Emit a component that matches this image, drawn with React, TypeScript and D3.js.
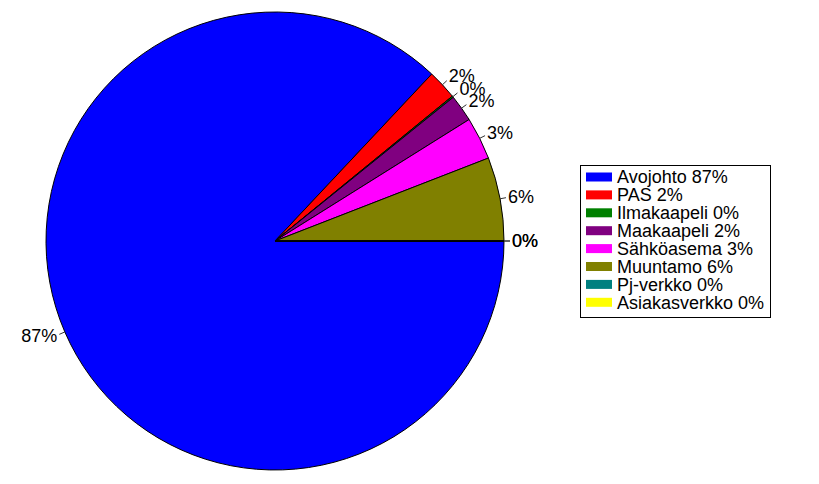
import React from "react";
import * as d3 from "d3";

const categories = ["Avojohto", "PAS", "Ilmakaapeli", "Maakaapeli", "Sähköasema", "Muuntamo", "Pj-verkko", "Asiakasverkko"];
const values = [870, 21, 1, 19, 30, 59, 0, 0];
const colors = ["#0000FF", "#FF0000", "#008000", "#800080", "#FF00FF", "#808000", "#008080", "#FFFF00"];

export default function App() {
  const W = 819, H = 484;
  const cx = 275, cy = 241, r = 229;
  const total = d3.sum(values);
  const pct = (v: number) => `${Math.round((v / total) * 100)}%`;
  // d3 angles: 0 = 12 o'clock, clockwise. Start at 3 o'clock going clockwise.
  const pie = d3.pie<number>().sort(null).startAngle(Math.PI / 2).endAngle(Math.PI / 2 + 2 * Math.PI);
  const arcs = pie(values);
  const arc = d3.arc<d3.PieArcDatum<number>>().innerRadius(0).outerRadius(r);
  const fs = 18;
  return (
    <svg width={W} height={H} style={{ position: "absolute", left: 0, top: 0 }} fontFamily="Liberation Sans, Arial, sans-serif">
      <rect width={W} height={H} fill="#fff" />
      <g transform={`translate(${cx},${cy})`}>
        {arcs.map((a, i) => (
          <path key={i} d={arc(a) || ""} fill={colors[i]} stroke="#000" strokeWidth={1} />
        ))}
        {arcs.map((a, i) => {
          const m = (a.startAngle + a.endAngle) / 2;
          const sx = Math.sin(m), sy = -Math.cos(m);
          const right = sx >= 0;
          const x1 = sx * r, y1 = sy * r, x2 = sx * (r + 6), y2 = sy * (r + 6);
          const lx = x2 + (right ? 2 : -2);
          const ly = y2 + (sy < 0 ? sy * 7 : sy * 3);
          return (
            <g key={"l" + i}>
              <line x1={x1} y1={y1} x2={x2} y2={y2} stroke="#333" strokeWidth={1} />
              <text x={lx} y={ly} dy="0.35em" fontSize={fs} textAnchor={right ? "start" : "end"} fill="#000">
                {pct(values[i])}
              </text>
            </g>
          );
        })}
      </g>
      <g>
        <rect x={580.5} y={165.5} width={190} height={152} fill="#fff" stroke="#000" strokeWidth={1} />
        {categories.map((c, i) => (
          <g key={c} transform={`translate(0,${177 + i * 17.9})`}>
            <rect x={586} y={-4.5} width={26} height={9} fill={colors[i]} />
            <text x={617} y={0} dy="0.35em" fontSize={fs} fill="#000">{`${c} ${pct(values[i])}`}</text>
          </g>
        ))}
      </g>
    </svg>
  );
}
